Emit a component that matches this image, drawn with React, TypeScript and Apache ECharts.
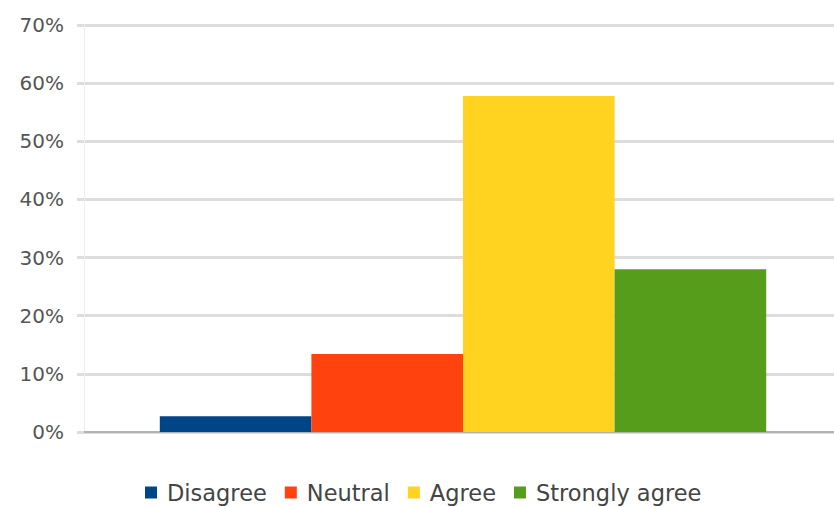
import React, { useEffect, useRef } from "react";
import * as echarts from "echarts";

const categories = ["Response"];
const seriesNames = ["Disagree", "Neutral", "Agree", "Strongly agree"];
const seriesValues = [2.7, 13.4, 57.8, 28.0];
const seriesColors = ["#004586", "#ff420e", "#ffd320", "#579d1c"];
const yTicks = [0, 10, 20, 30, 40, 50, 60, 70];

export default function App() {
  const ref = useRef<HTMLDivElement>(null);
  useEffect(() => {
    if (!ref.current) return;
    const chart = echarts.init(ref.current, null, { renderer: "svg" });
    chart.setOption({
      animation: false,
      backgroundColor: "#ffffff",
      textStyle: { fontFamily: "DejaVu Sans, sans-serif" },
      grid: { left: 84, top: 25, bottom: 75, width: 758, containLabel: false },
      legend: {
        top: 481,
        left: 145,
        padding: 0,
        itemWidth: 12,
        itemHeight: 12,
        itemGap: 18,
        icon: "rect",
        textStyle: { fontSize: 22.5, lineHeight: 23, color: "#444444", padding: [0, 0, 0, 5] },
        data: seriesNames,
      },
      xAxis: {
        type: "category",
        data: categories,
        axisLabel: { show: false },
        axisTick: { show: false },
        axisLine: { lineStyle: { color: "#b3b3b3", width: 2 } },
      },
      yAxis: {
        type: "value",
        min: yTicks[0],
        max: yTicks[yTicks.length - 1],
        interval: 10,
        axisLabel: {
          formatter: "{value}%",
          fontSize: 20,
          color: "#555555",
          margin: 20,
        },
        axisLine: { show: true, lineStyle: { color: "#eeeeee", width: 1 } },
        axisTick: { show: true, length: 7, lineStyle: { color: "#dddddd", width: 3 } },
        splitLine: { lineStyle: { color: "#dddddd", width: 3 } },
      },
      series: seriesNames.map((name, i) => ({
        name,
        type: "bar",
        data: [seriesValues[i]],
        barGap: "0%",
        barCategoryGap: "20%",
        itemStyle: { color: seriesColors[i] },
      })),
    });
    return () => chart.dispose();
  }, []);
  return (
    <div style={{ width: 834, height: 507, position: "absolute", left: 0, top: 0, overflow: "hidden" }}>
      <div ref={ref} style={{ width: 846, height: 507 }} />
    </div>
  );
}
